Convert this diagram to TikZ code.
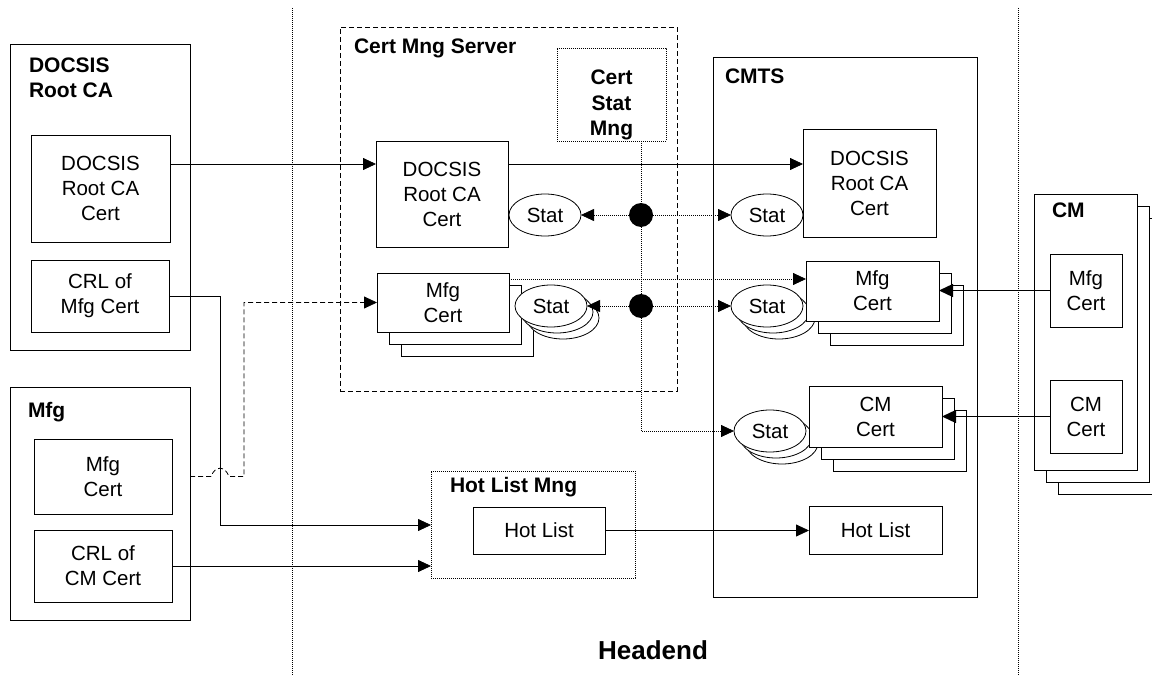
\documentclass[tikz,border=0pt]{standalone}
\usepackage{fontspec}
\setmainfont{Liberation Sans}
\usetikzlibrary{arrows.meta,shapes.geometric,calc}
\newcommand\dgreg{\fontsize{20.5bp}{25bp}\selectfont}
\newcommand\dgbold{\fontsize{21bp}{25bp}\selectfont\bfseries}
\newcommand\dghead{\fontsize{26bp}{30bp}\selectfont\bfseries}
\begin{document}
\begin{tikzpicture}[x=1bp,y=-1bp,
  every node/.style={inner sep=0pt, outer sep=0pt},
  box/.style={draw, line width=0.8bp, fill=white, align=center, font=\dgreg},
  grp/.style={draw, line width=0.8bp},
  ttl/.style={font=\dgbold, anchor=base west},
  ttlc/.style={font=\dgbold, anchor=base},
  statell/.style={draw, ellipse, line width=0.8bp, fill=white, minimum width=72bp, minimum height=42bp, font=\dgreg},
  dotline/.style={line width=0.8bp, dash pattern=on 1bp off 1bp},
  dashline/.style={line width=0.8bp, dash pattern=on 5bp off 3bp},
  solidline/.style={line width=0.8bp},
  heavyline/.style={line width=1.3bp},
  arr/.style={-{Triangle[length=13bp,width=12bp]}},
  bigarr/.style={-{Triangle[length=14bp,width=13bp]}},
  blob/.style={circle, fill=black, minimum size=24bp}
]
\useasboundingbox (0,0) rectangle (1152,675);

% dividers
\draw[dotline] (292,8) -- (292,675);
\draw[dotline] (1018,8) -- (1018,675);

% DOCSIS Root CA
\node[grp, minimum width=180bp, minimum height=306bp] (rootouter) at (100,197) {};
\node[ttl] (rootttla) at (29,72.5) {DOCSIS};
\node[ttl] (rootttlb) at (29,97.5) {Root CA};
\node[box, minimum width=139bp, minimum height=107bp] (rootcert) at (100.5,188.5) {DOCSIS\\Root CA\\Cert};
\node[box, minimum width=138bp, minimum height=72bp] (crlmfg) at (100,296) {CRL of\\Mfg Cert};

% Mfg
\node[grp, minimum width=180bp, minimum height=233bp] (mfgouter) at (100,503.5) {};
\node[ttl] (mfgttl) at (28,417) {Mfg};
\node[box, minimum width=138bp, minimum height=75bp] (mfgcert) at (103,476.5) {Mfg\\Cert};
\node[box, minimum width=138bp, minimum height=72bp] (crlcm) at (103,566) {CRL of\\CM Cert};

% Cert Mng Server
\node[draw, dashline, minimum width=337bp, minimum height=364bp] (certmng) at (508.5,209) {};
\node[ttl] (certmngttl) at (354,54) {Cert Mng Server};
\node[draw, dotline, minimum width=109bp, minimum height=93bp] (csm) at (611.5,94.5) {};
\node[ttlc] (csma) at (611.5,85) {Cert};
\node[ttlc] (csmb) at (611.5,111) {Stat};
\node[ttlc] (csmc) at (611.5,136) {Mng};
\node[box, minimum width=132bp, minimum height=106bp] (mngdoc) at (442,194) {DOCSIS\\Root CA\\Cert};
\node[box, minimum width=132bp, minimum height=59bp] (mngmfgc) at (467,326.5) {};
\node[box, minimum width=132bp, minimum height=59bp] (mngmfgb) at (455,314.5) {};
\node[box, minimum width=132bp, minimum height=59bp] (mngmfg) at (443,302.5) {Mfg\\Cert};
\node[statell] (stat1) at (545,215) {Stat};
\node[statell] (mngstatc) at (563,318) {};
\node[statell] (mngstatb) at (557,312) {};
\node[statell] (mngstat) at (551,306) {Stat};

% CMTS
\node[grp, minimum width=264bp, minimum height=540bp] (cmts) at (845,327) {};
\node[ttl] (cmtsttl) at (725,84) {CMTS};
\node[box, minimum width=133bp, minimum height=108bp] (cmtsdoc) at (869.5,183) {DOCSIS\\Root CA\\Cert};
\node[statell] (stat2) at (767,215) {Stat};
\node[statell] (cmtsstatc) at (779,318) {};
\node[statell] (cmtsstatb) at (773,312) {};
\node[statell] (cmtsstat) at (767,306) {Stat};
\node[box, minimum width=133bp, minimum height=60bp] (cmtsmfgc) at (896.5,315) {};
\node[box, minimum width=133bp, minimum height=60bp] (cmtsmfgb) at (884.5,303) {};
\node[box, minimum width=133bp, minimum height=60bp] (cmtsmfg) at (872.5,291) {Mfg\\Cert};
\node[statell] (cmstatc) at (782,443) {};
\node[statell] (cmstatb) at (776,437) {};
\node[statell] (cmstat) at (770,431) {Stat};
\node[box, minimum width=133bp, minimum height=61bp] (cmtscmc) at (899.5,440.5) {};
\node[box, minimum width=133bp, minimum height=61bp] (cmtscmb) at (887.5,428.5) {};
\node[box, minimum width=133bp, minimum height=61bp] (cmtscm) at (875.5,416.5) {CM\\Cert};
\node[box, minimum width=133bp, minimum height=48bp] (hotb) at (875.5,530) {Hot List};

% Hot List Mng
\node[draw, dotline, minimum width=204bp, minimum height=107bp] (hotmng) at (533,524.5) {};
\node[ttl] (hotmngttl) at (450,492) {Hot List Mng};
\node[box, minimum width=132bp, minimum height=47bp] (hota) at (539,530.5) {Hot List};

% CM stack
\node[box, minimum width=103bp, minimum height=276bp] (cmc) at (1109.5,356) {};
\node[box, minimum width=103bp, minimum height=276bp] (cmb) at (1097.5,344) {};
\node[box, minimum width=103bp, minimum height=276bp] (cm) at (1085.5,332) {};
\node[ttl] (cmttl) at (1052,218) {CM};
\node[box, minimum width=72bp, minimum height=73bp] (cmmfg) at (1086,290.5) {Mfg\\Cert};
\node[box, minimum width=72bp, minimum height=73bp] (cmcert) at (1086,416.5) {CM\\Cert};

% Headend
\node[font=\dghead, anchor=base] (headend) at (653,659) {Headend};

% status junctions
\node[blob] (dot1) at (641,215) {};
\node[blob] (dot2) at (641,306) {};

% DOCSIS root cert distribution
\path (rootcert.east) ++(0,-24.5) coordinate (r1);
\draw[solidline,arr] (r1) -- (r1 -| mngdoc.west);
\draw[solidline,arr] (r1 -| mngdoc.east) -- (r1 -| cmtsdoc.west);

% Mfg cert distribution
\path ([yshift=-6bp]mngmfg.north east) coordinate (m1);
\draw[dotline,arr] (m1) -- (m1 -| cmtsmfg.west);
\path (mfgcert.east -| mfgouter.east) coordinate (d0);
\coordinate (j1) at (220,525);
\draw[dashline,arr] (d0) -- ($(d0 -| j1)+(-9,0)$) .. controls ($(d0 -| j1)+(-5,-11)$) and ($(d0 -| j1)+(5,-11)$) .. ($(d0 -| j1)+(9,0)$) -- ($(d0 -| j1)+(24,0)$) |- (mngmfg.west);

% CRLs to hot list
\draw[solidline,arr] (crlmfg.east) -| (j1) -- (j1 -| hotmng.west);
\draw[solidline,arr] (crlcm.east) -- (crlcm.east -| hotmng.west);
\draw[solidline,arr] (hota.east) -- (hota.east -| hotb.west);

% status lines
\draw[dotline] (csm.south -| dot1) -- (dot1);
\draw[dotline,arr] (dot1) -- (stat1.east);
\draw[dotline,arr] (dot1) -- (stat2.west);
\draw[dotline] (dot1) -- (dot2);
\draw[dotline,arr] (dot2) -- (mngstat.east);
\draw[dotline,arr] (dot2) -- (cmtsstat.west);
\draw[dotline,arr] (dot2) |- (cmstat.west);

% CM to CMTS
\draw[heavyline,bigarr] (cmmfg.west) -- (cmmfg.west -| cmtsmfg.east);
\draw[heavyline,bigarr] (cmcert.west) -- (cmcert.west -| cmtscm.east);
\end{tikzpicture}
\end{document}
